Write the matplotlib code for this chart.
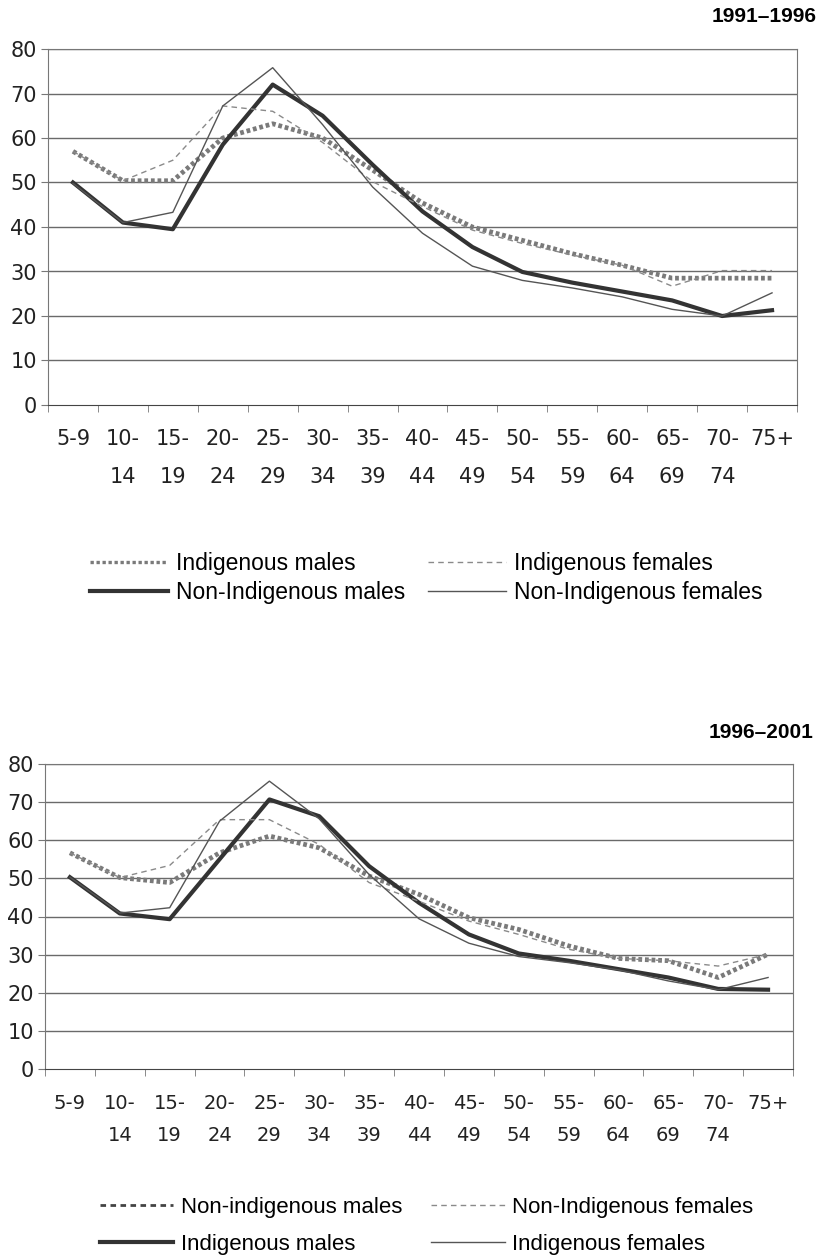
import matplotlib
matplotlib.use("Agg")
import matplotlib.pyplot as plt
from matplotlib.ticker import FixedLocator

ages = ['5-9', '10-\n14', '15-\n19', '20-\n24', '25-\n29', '30-\n34', '35-\n39',
        '40-\n44', '45-\n49', '50-\n54', '55-\n59', '60-\n64', '65-\n69', '70-\n74', '75+']
yticks = [0, 10, 20, 30, 40, 50, 60, 70, 80]

# 1991-1996 panel
ind_m_91 = [57, 50.4, 50.4, 60, 63.2, 60, 52.8, 45.4, 40, 37, 34, 31.4, 28.5, 28.5, 28.5]
ind_f_91 = [57, 50.4, 55, 67.2, 66, 59, 50.2, 44.6, 39.3, 36.3, 33.7, 31.4, 26.7, 30.2, 30.2]
non_m_91 = [50, 41, 39.5, 58.5, 72, 65, 54, 43.5, 35.5, 29.9, 27.5, 25.5, 23.5, 20, 21.3]
non_f_91 = [49.8, 41, 43.3, 67.2, 75.8, 63, 49, 38.6, 31.2, 28, 26.3, 24.3, 21.5, 20, 25.2]

# 1996-2001 panel
non_m_96 = [56.7, 50.2, 48.9, 56.7, 61.1, 58, 50.6, 45.8, 39.7, 36.6, 32.3, 29, 28.4, 24, 30.1]
non_f_96 = [56.7, 50.2, 53.4, 65.4, 65.4, 58.9, 48.9, 44, 38.8, 35.3, 31.4, 29, 28.4, 27, 30.1]
ind_m_96 = [50.3, 40.8, 39.3, 55, 70.7, 66.3, 53.2, 43.6, 35.3, 30.3, 28.4, 26.2, 24, 21, 20.8]
ind_f_96 = [50.3, 40.9, 42.3, 65, 75.5, 65.6, 51, 39.4, 33, 29.5, 27.9, 26, 23.1, 20.8, 24]

plt.rcParams['font.family'] = ['DejaVu Sans']
narrow = ['Liberation Sans Narrow', 'Liberation Sans', 'DejaVu Sans']

W, H = 821, 1255
fig = plt.figure(figsize=(W / 100, H / 100), dpi=100)


def panel(rect, series, fs, lsp, pad):
    ax = fig.add_axes(rect)
    x = range(len(ages))
    lines = []
    for vals, style in series:
        ln, = ax.plot(x, vals, **style)
        lines.append(ln)
    ax.set_xlim(-0.5, len(ages) - 0.5)
    ax.set_ylim(0, 80)
    ax.set_yticks(yticks)
    for y in yticks[1:]:
        ax.axhline(y, color='#6a6a6a', lw=1.0, zorder=0)
    ax.set_xticks(list(x))
    ax.set_xticklabels(ages, fontsize=fs, color='#222222')
    for t in ax.get_xticklabels():
        t.set_linespacing(lsp)
    ax.xaxis.set_minor_locator(FixedLocator([i - 0.5 for i in range(len(ages) + 1)]))
    ax.tick_params(axis='x', which='major', length=0, pad=pad)
    ax.tick_params(axis='x', which='minor', length=5, color='#777777', direction='out')
    ax.tick_params(axis='y', length=5, color='#777777', labelsize=15, pad=3,
                   labelcolor='#222222')
    for s in ['left', 'right', 'top']:
        ax.spines[s].set_color('#777777')
    ax.spines['bottom'].set_color('#444444')
    return ax, lines


thick_dot = dict(color='#7a7a7a', lw=3.4, dashes=(0.8, 0.6), solid_capstyle='butt')
thin_dash = dict(color='#8a8a8a', lw=1.0, dashes=(4, 3))
thick_solid = dict(color='#333333', lw=3.0)
thin_solid = dict(color='#555555', lw=1.0)

# top panel
ax1, l1 = panel([48 / W, 1 - 405 / H, 749 / W, 356 / H],
                [(ind_m_91, thick_dot), (non_m_91, thick_solid),
                 (ind_f_91, thin_dash), (non_f_91, thin_solid)], 15, 2.15, 17)
fig.text(817 / W, 1 - 17 / H, '1991\u20131996', ha='right', va='center',
         fontsize=15, fontweight='bold', family=narrow)
top_dot = plt.Line2D([], [], color='#7a7a7a', lw=2.4, dashes=(1, 0.8))
fig.legend([top_dot, l1[1], l1[2], l1[3]],
           ['Indigenous males', 'Non-Indigenous males',
            'Indigenous females', 'Non-Indigenous females'],
           ncol=2, loc='center left', bbox_to_anchor=(90 / W, 1 - 578 / H),
           frameon=False, prop={'family': narrow, 'size': 16.5},
           handlelength=3.4, handletextpad=0.35, columnspacing=1.0,
           labelspacing=0.3, borderpad=0, borderaxespad=0)

# bottom panel
ax2, l2 = panel([45 / W, 1 - 1069 / H, 748 / W, 305 / H],
                [(non_m_96, thick_dot), (ind_m_96, thick_solid),
                 (non_f_96, thin_dash), (ind_f_96, thin_solid)], 14, 1.85, 18)
fig.text(813 / W, 1 - 732 / H, '1996\u20132001', ha='right', va='center',
         fontsize=15, fontweight='bold', family=narrow)
bot_dash = plt.Line2D([], [], color='#444444', lw=2, dashes=(2, 1.6))
fig.legend([bot_dash, l2[1], l2[2], l2[3]],
           ['Non-indigenous males', 'Indigenous males',
            'Non-Indigenous females', 'Indigenous females'],
           ncol=2, loc='center left', bbox_to_anchor=(100 / W, 1 - 1226 / H),
           frameon=False, prop={'family': narrow, 'size': 16},
           handlelength=3.3, handletextpad=0.35, columnspacing=1.3,
           labelspacing=0.7, borderpad=0, borderaxespad=0)

fig.savefig('out.png', dpi=100)
